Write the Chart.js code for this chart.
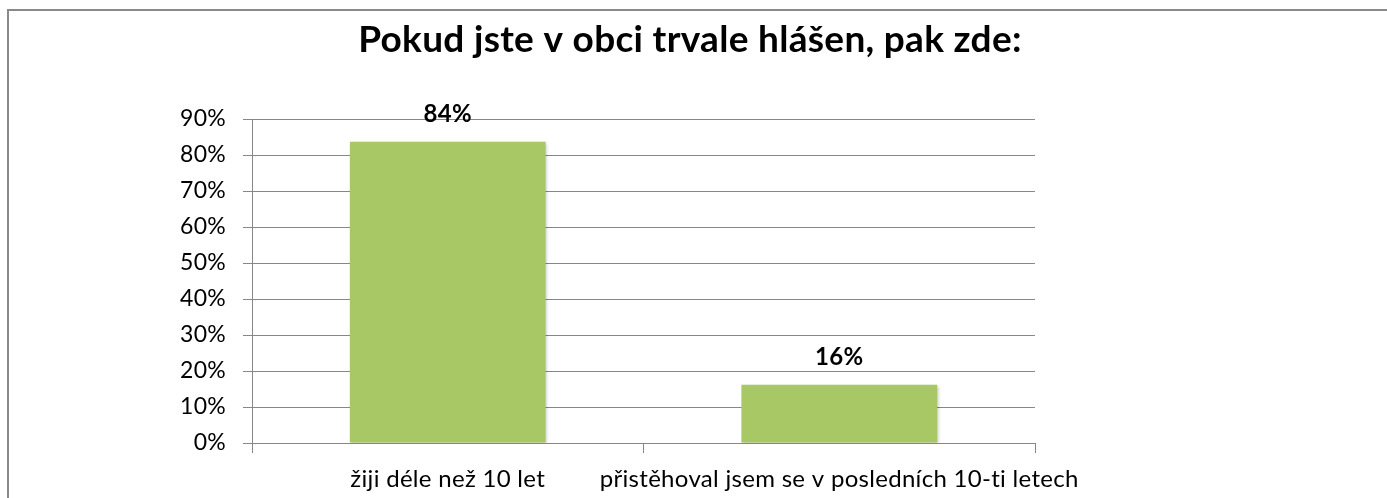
<!DOCTYPE html>
<html>
<head>
<meta charset="utf-8">
<script src="https://cdn.jsdelivr.net/npm/chart.js@4"></script>
<style>
  html, body { margin: 0; padding: 0; background: #ffffff; }
  #wrap { width: 1387px; height: 498px; position: relative; }
</style>
</head>
<body>
<div id="wrap"><canvas id="c" width="1387" height="498"></canvas></div>
<script>
const titleText = 'Pokud jste v obci trvale hlášen, pak zde:';
const categories = ['žiji déle než 10 let', 'přistěhoval jsem se v posledních 10-ti letech'];
const values = [83.7, 16.2];
const valueLabels = ['84%', '16%'];
const yTickMax = 90;
const yTickStep = 10;

const FONT = 'Lato, "Open Sans", sans-serif';

const framePlugin = {
  id: 'frame',
  beforeDraw(chart) {
    const ctx = chart.ctx;
    if ('letterSpacing' in ctx) ctx.letterSpacing = '0.3px';
    ctx.save();
    ctx.fillStyle = '#ffffff';
    ctx.fillRect(0, 0, chart.width, chart.height);
    ctx.strokeStyle = '#8a8a8a';
    ctx.lineWidth = 2;
    ctx.beginPath();
    ctx.moveTo(8, chart.height + 5);
    ctx.lineTo(8, 10);
    ctx.lineTo(chart.width + 5, 10);
    ctx.stroke();
    ctx.restore();
  },
  afterDraw(chart) {
    const ctx = chart.ctx;
    ctx.save();
    ctx.fillStyle = '#000000';
    ctx.font = 'bold 37px ' + FONT;
    ctx.textAlign = 'center';
    ctx.textBaseline = 'alphabetic';
    ctx.fillText(titleText, 690, 52);
    ctx.restore();
  }
};

const shadowPlugin = {
  id: 'barShadow',
  beforeDatasetsDraw(chart) {
    const ctx = chart.ctx;
    ctx.save();
    ctx.shadowColor = 'rgba(0,0,0,0.22)';
    ctx.shadowBlur = 3;
    ctx.shadowOffsetX = 1.5;
    ctx.shadowOffsetY = 1;
  },
  afterDatasetsDraw(chart) {
    chart.ctx.restore();
  }
};

const labelPlugin = {
  id: 'valueLabels',
  afterDatasetsDraw(chart) {
    const ctx = chart.ctx;
    const meta = chart.getDatasetMeta(0);
    ctx.save();
    ctx.fillStyle = '#000000';
    ctx.font = 'bold 24px ' + FONT;
    ctx.textAlign = 'center';
    ctx.textBaseline = 'alphabetic';
    meta.data.forEach((el, i) => {
      ctx.fillText(valueLabels[i], el.x, el.y - 20);
    });
    ctx.restore();
  }
};

new Chart(document.getElementById('c'), {
  type: 'bar',
  data: {
    labels: categories,
    datasets: [{
      data: values,
      backgroundColor: '#a8c866',
      borderWidth: 0,
      categoryPercentage: 1.0,
      barPercentage: 0.5
    }]
  },
  options: {
    responsive: false,
    animation: false,
    devicePixelRatio: 1,
    layout: { padding: { left: 0, right: 352, top: 119, bottom: 0 } },
    plugins: {
      legend: { display: false },
      tooltip: { enabled: false },
      title: { display: false }
    },
    scales: {
      x: {
        grid: {
          display: true,
          drawOnChartArea: false,
          drawTicks: true,
          tickLength: 10,
          color: '#878787',
          offset: true
        },
        border: { display: true, color: '#878787', width: 1 },
        ticks: {
          color: '#000000',
          font: { family: FONT, size: 24 },
          padding: 12,
          maxRotation: 0,
          autoSkip: false
        },
        afterFit(s) { s.height = 55; }
      },
      y: {
        min: 0,
        max: yTickMax,
        grid: {
          color: '#878787',
          drawTicks: true,
          tickLength: 9
        },
        border: { display: true, color: '#878787', width: 1 },
        ticks: {
          stepSize: yTickStep,
          color: '#000000',
          font: { family: FONT, size: 23 },
          padding: 17,
          callback: v => v + '%'
        },
        afterFit(s) { s.width = 252; }
      }
    }
  },
  plugins: [framePlugin, shadowPlugin, labelPlugin]
});
</script>
</body>
</html>
